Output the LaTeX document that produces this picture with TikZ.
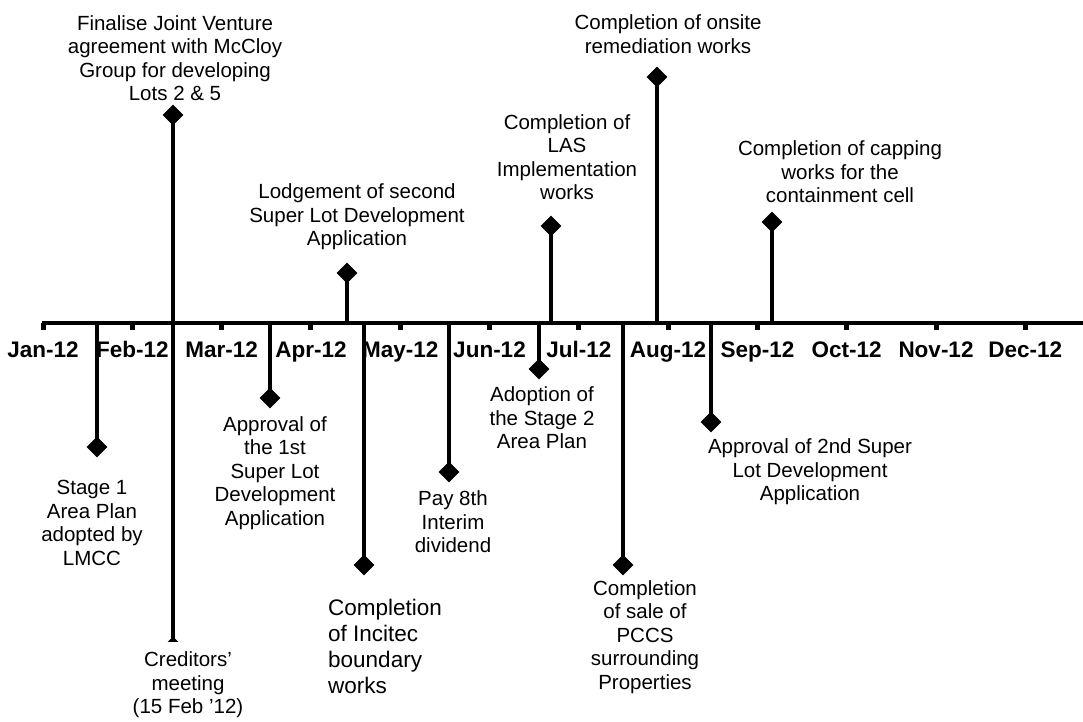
\documentclass[tikz,border=0pt]{standalone}
\usepackage{fontspec}
\setmainfont{Liberation Sans}
\usetikzlibrary{shapes.geometric}

\tikzset{
  event/.style={font=\fontsize{20.5}{23.5}\selectfont, align=center, inner sep=0pt},
  month/.style={font=\fontsize{22.5}{27}\selectfont\bfseries, inner sep=0pt, anchor=base},
  marker/.style={diamond, fill=black, inner sep=0pt, minimum size=21pt},
  stem/.style={line width=3.2pt},
}

\begin{document}
\begin{tikzpicture}[x=1pt,y=-1pt]
  \useasboundingbox (0,0) rectangle (1083,722);
  % time axis with month ticks
  \coordinate (axl) at (42,323);
  \coordinate (axr) at (1083,323);
  \draw[line width=4.5pt] (axl) -- (axr);
  \foreach \m [count=\i from 0] in {Jan,Feb,Mar,Apr,May,Jun,Jul,Aug,Sep,Oct,Nov,Dec} {
    \coordinate (k\i) at ({43+89.3*\i},323);
    \fill (k\i) ++(-2.5,0) rectangle ++(5,6.5);
    \node[month] (m\i) at ({43+89.3*\i},357) {\m-12};
  }
  % events: stem x / marker y
  \def\evs{173/115,347/273,551/226,657/77,772/222,97/447,173/647,270/398,364/565,449/472,539/369,623/565,711/422}
  %         1       2       3       4      5       6      7       8       9       10      11      12      13
  \foreach \x/\y [count=\i from 1] in \evs {
    \coordinate (b\i) at (\x,323);
    \node[marker] (d\i) at (\x,\y) {};
    \draw[stem] (b\i) -- (d\i.center);
  }
  % labels above the axis
  \node[event] (e1) at (175,58) {Finalise Joint Venture\\agreement with McCloy\\Group for developing\\Lots 2 \& 5};
  \node[event] (e2) at (357,217) {Lodgement of second\\Super Lot Development\\Application};
  \node[event] (e3) at (567,157) {Completion of\\LAS\\Implementation\\works};
  \node[event] (e4) at (668,34) {Completion of onsite\\remediation works};
  \node[event] (e5) at (840,172) {Completion of capping\\works for the\\containment cell};
  % labels below the axis
  \node[event] (e6) at (92,523) {Stage 1\\Area Plan\\adopted by\\LMCC};
  \node[event, fill=white, inner ysep=10pt] (e7) at (188,685) {Creditors'\\meeting\\(15 Feb '12)};
  \node[event] (e8) at (275,473) {Approval of\\the 1st\\Super Lot\\Development\\Application};
  \node[event, font=\fontsize{22.5}{26}\selectfont, align=left, anchor=west] (e9) at (328,646) {Completion\\of Incitec\\boundary\\works};
  \node[event] (e10) at (453,522) {Pay 8th\\Interim\\dividend};
  \node[event] (e11) at (542,418) {Adoption of\\the Stage 2\\Area Plan};
  \node[event] (e12) at (645,637) {Completion\\of sale of\\PCCS\\surrounding\\Properties};
  \node[event] (e13) at (810,472) {Approval of 2nd Super\\Lot Development\\Application};
\end{tikzpicture}
\end{document}
